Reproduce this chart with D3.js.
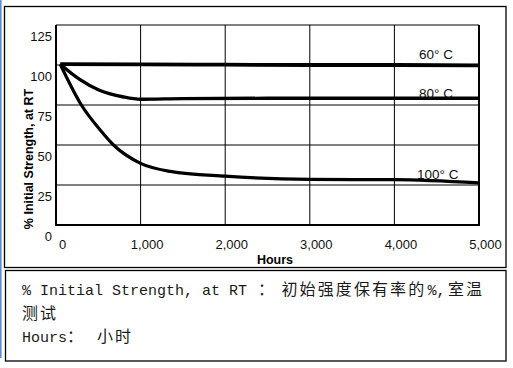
<!DOCTYPE html>
<html>
<head>
<meta charset="utf-8">
<script src="https://cdn.jsdelivr.net/npm/d3@7"></script>
<style>
  body { margin: 0; background: #fff; }
  svg { display: block; }
</style>
</head>
<body>
<svg width="513" height="368"></svg>
<script>
// tick values
const xTicks = [0, 1000, 2000, 3000, 4000, 5000];
const yTicks = [0, 25, 50, 75, 100, 125];

// series (hours, % initial strength)
const hours60 = [50, 1000, 2000, 3000, 4000, 5000];
const vals60 = [100.5, 100.4, 100.2, 100, 100, 99.8];

const hours80 = [50, 280, 500, 800, 1000, 1500, 2500, 5000];
const vals80 = [100.5, 91, 84.5, 80, 78.6, 79, 79.2, 79.2];

const hours100 = [50, 300, 520, 680, 1000, 1350, 2000, 3000, 4000, 5000];
const vals100 = [100.5, 75, 59.5, 50, 38.5, 33.5, 30.5, 28.5, 28.3, 26.3];

const seriesNames = ["60° C", "80° C", "100° C"];

const svg = d3.select("svg");

// left blue edge from the screenshot
svg.append("line")
    .attr("x1", 0.8).attr("x2", 0.8)
    .attr("y1", 0).attr("y2", 358)
    .attr("stroke", "#5a8fd8").attr("stroke-width", 1.6);

// outer boxes
svg.append("rect")
    .attr("x", 4.5).attr("y", 6.5)
    .attr("width", 501.5).attr("height", 261)
    .attr("fill", "none").attr("stroke", "#000").attr("stroke-width", 1.3);
svg.append("rect")
    .attr("x", 5.5).attr("y", 270.5)
    .attr("width", 500.5).attr("height", 90.5)
    .attr("fill", "none").attr("stroke", "#000").attr("stroke-width", 1.3);

const x = d3.scaleLinear().domain([0, 5000]).range([56, 479]);
const y = d3.scaleLinear().domain([0, 125]).range([225, 25]);

// grid
svg.append("g").selectAll("line")
    .data(xTicks.slice(1, -1))
    .enter().append("line")
    .attr("x1", d => x(d)).attr("x2", d => x(d))
    .attr("y1", y(125)).attr("y2", y(0))
    .attr("stroke", "#000").attr("stroke-width", 1);
svg.append("g").selectAll("line")
    .data(yTicks.slice(1, -1))
    .enter().append("line")
    .attr("x1", x(0)).attr("x2", x(5000))
    .attr("y1", d => y(d)).attr("y2", d => y(d))
    .attr("stroke", "#000").attr("stroke-width", 1);

// plot frame
svg.append("line")
    .attr("x1", x(0)).attr("x2", x(5000))
    .attr("y1", y(125)).attr("y2", y(125))
    .attr("stroke", "#000").attr("stroke-width", 1);
svg.append("path")
    .attr("d", `M${x(0)},${y(125)}V${y(0)}H${x(5000)}V${y(125)}`)
    .attr("fill", "none").attr("stroke", "#000").attr("stroke-width", 2);

// axes (labels only)
const xAxis = svg.append("g")
    .attr("transform", `translate(6,${y(0) + 12})`)
    .call(d3.axisBottom(x).tickValues(xTicks).tickSize(0).tickFormat(d3.format(",")));
xAxis.select(".domain").remove();
xAxis.selectAll("text")
    .attr("font-family", "Liberation Sans, Arial, sans-serif")
    .attr("font-size", 13).attr("fill", "#111");

const yAxis = svg.append("g")
    .attr("transform", `translate(${x(0) - 1},11)`)
    .call(d3.axisLeft(y).tickValues(yTicks).tickSize(0));
yAxis.select(".domain").remove();
yAxis.selectAll("text")
    .attr("font-family", "Liberation Sans, Arial, sans-serif")
    .attr("font-size", 13).attr("fill", "#111");

// axis titles
svg.append("text")
    .attr("x", 275).attr("y", 264)
    .attr("text-anchor", "middle")
    .attr("font-family", "Liberation Sans, Arial, sans-serif")
    .attr("font-size", 12.5).attr("font-weight", "bold")
    .text("Hours");
svg.append("text")
    .attr("transform", "translate(33,159) rotate(-90)")
    .attr("text-anchor", "middle")
    .attr("font-family", "Liberation Sans, Arial, sans-serif")
    .attr("font-size", 12.5).attr("font-weight", "bold")
    .text("% Initial Strength, at RT");

// lines
const line = d3.line()
    .x(d => x(d[0]))
    .y(d => y(d[1]))
    .curve(d3.curveMonotoneX);

const series = [
    d3.zip(hours60, vals60),
    d3.zip(hours80, vals80),
    d3.zip(hours100, vals100)
];
const widths = [3.8, 3.4, 3.2];

svg.append("g").selectAll("path")
    .data(series)
    .enter().append("path")
    .attr("d", line)
    .attr("fill", "none")
    .attr("stroke", "#000")
    .attr("stroke-width", (d, i) => widths[i])
    .attr("stroke-linejoin", "round");

// series labels
const labelPos = [[419, 59], [419, 98], [417, 179]];
svg.append("g").selectAll("text")
    .data(seriesNames)
    .enter().append("text")
    .attr("x", (d, i) => labelPos[i][0])
    .attr("y", (d, i) => labelPos[i][1])
    .attr("font-family", "Liberation Sans, Arial, sans-serif")
    .attr("font-size", 13.5).attr("fill", "#111")
    .text(d => d);

// caption
const mono = "Liberation Mono, DejaVu Sans Mono, monospace";
const cjk = "Noto Sans CJK SC, sans-serif";
const cap = svg.append("g").attr("fill", "#1a1a1a");

function seg(tx, ty, str, fam, size, ls) {
    cap.append("text")
        .attr("x", tx).attr("y", ty)
        .attr("font-family", fam)
        .attr("font-size", size)
        .attr("letter-spacing", ls || 0)
        .text(str);
}
seg(22, 295, "% Initial Strength, at RT", mono, 15);
seg(258, 295, "：", cjk, 16);
seg(281.5, 295, "初始强度保有率的", cjk, 16, 2.1);
seg(427.5, 295, "%,", mono, 15);
seg(448, 295, "室温", cjk, 16, 2.1);
seg(22, 318.5, "测试", cjk, 16, 2.1);
seg(22, 341.5, "Hours", mono, 15);
seg(67, 341.5, "：", cjk, 16);
seg(97, 341.5, "小时", cjk, 16, 2.1);
</script>
</body>
</html>
